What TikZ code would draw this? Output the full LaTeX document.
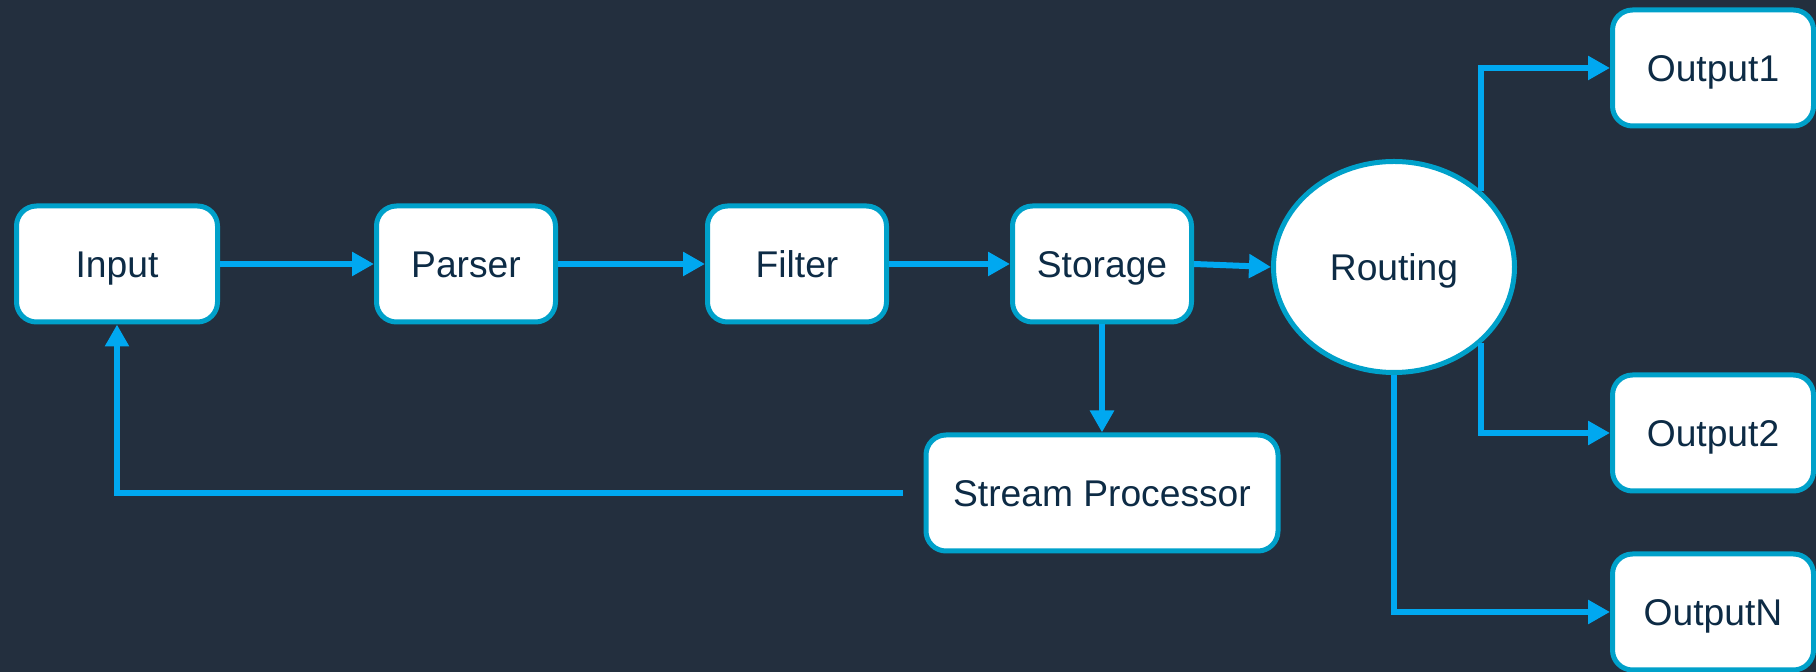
\documentclass[tikz,border=0pt]{standalone}
\usepackage{fontspec}
\setmainfont{Liberation Sans}
\usetikzlibrary{arrows.meta,shapes.geometric}
\definecolor{bg}{HTML}{232F3E}
\definecolor{bord}{HTML}{00A1CA}
\definecolor{arr}{HTML}{00A8F0}
\definecolor{txt}{HTML}{0D2B45}
\tikzset{
  box/.style={draw=bord, line width=2.5pt, fill=white, rounded corners=10pt,
    text=txt, font=\fontsize{18.6pt}{22pt}\selectfont, align=center,
    minimum height=58pt, inner sep=0pt, text height=13.3pt, text depth=0pt},
  ell/.style={ellipse, draw=bord, line width=2.5pt, fill=white, text=txt,
    font=\fontsize{18.6pt}{22pt}\selectfont, minimum width=120.5pt, minimum height=105.5pt,
    inner sep=0pt, text height=13.3pt, text depth=0pt},
  conn/.style={draw=arr, line width=3pt, -{Triangle[length=11pt,width=11.5pt]}}
}
\begin{document}
\begin{tikzpicture}[x=0.5pt,y=-0.5pt]
\useasboundingbox[fill=bg] (0,0) rectangle (1816,672);
\node[box, minimum width=100.5pt] (input) at (117,264) {Input};
\node[box, minimum width=89.5pt] (parser) at (466,264) {Parser};
\node[box, minimum width=89.5pt] (filter) at (797,264) {Filter};
\node[box, minimum width=89.5pt] (storage) at (1102,264) {Storage};
\node[ell] (routing) at (1394,267) {Routing};
\node[box, minimum width=176pt] (sp) at (1102,493) {Stream Processor};
\node[box, minimum width=100.5pt] (out1) at (1713,68) {Output1};
\node[box, minimum width=100.5pt] (out2) at (1713,433) {Output2};
\node[box, minimum width=100.5pt] (outn) at (1713,612) {OutputN};
\coordinate (fb) at (903,493);
\draw[conn] (input.east) -- (parser.west);
\draw[conn] (parser.east) -- (filter.west);
\draw[conn] (filter.east) -- (storage.west);
\draw[conn] (storage.east) -- (routing.west);
\draw[conn] (storage.south) -- (sp.north);
\draw[conn] (fb) -| (input.south);
\draw[conn] (routing.north east) |- (out1.west);
\draw[conn] (routing.south east) |- (out2.west);
\draw[conn] (routing.south) |- (outn.west);
\end{tikzpicture}
\end{document}
